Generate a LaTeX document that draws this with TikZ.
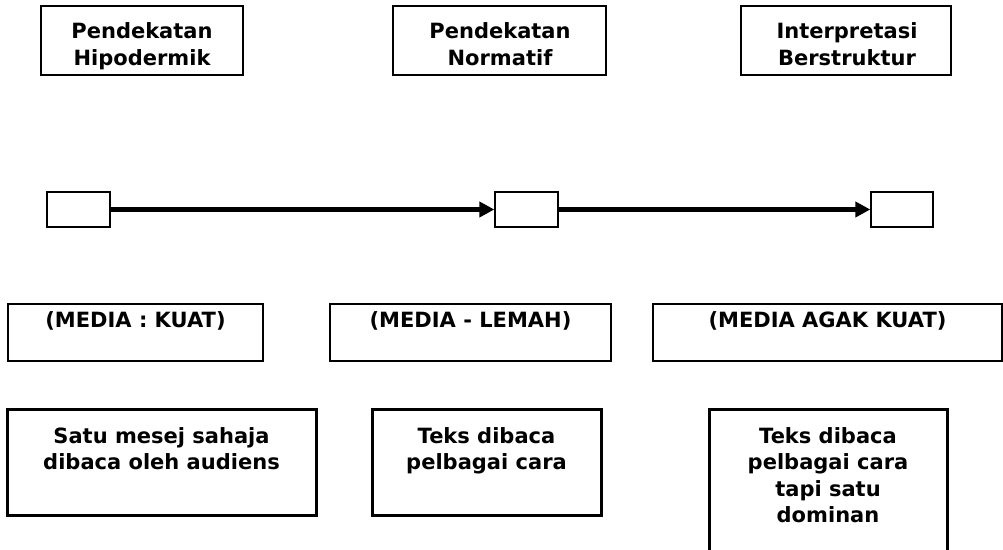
\documentclass[tikz,border=0pt]{standalone}
\usepackage{fontspec}
\setmainfont{DejaVu Sans}
\usetikzlibrary{arrows.meta}
\begin{document}
\begin{tikzpicture}[x=1pt,y=-1pt,
  thinbox/.style={draw=black, line width=1.3pt, inner sep=0pt},
  thickbox/.style={draw=black, line width=3pt, inner sep=0pt},
  label/.style={font=\fontsize{21}{26.5}\selectfont\bfseries, align=center, inner sep=0pt, anchor=north},
  flow/.style={line width=4.5pt, -{Triangle[length=15pt,width=15pt]}}]
\useasboundingbox (0,0) rectangle (1003,549);
% top boxes
\node[thinbox, minimum width=202pt, minimum height=69pt] (t1) at (142,40.5) {};
\node[thinbox, minimum width=213pt, minimum height=69pt] (t2) at (499.5,40.5) {};
\node[thinbox, minimum width=210pt, minimum height=69pt] (t3) at (846,40.5) {};
\node[label] (t1t) at (142,22.5) {Pendekatan\\Hipodermik};
\node[label] (t2t) at (500,22.5) {Pendekatan\\Normatif};
\node[label] (t3t) at (847,22.5) {Interpretasi\\Berstruktur};
% small boxes
\node[thinbox, minimum width=63pt, minimum height=35pt] (s1) at (78.5,209.5) {};
\node[thinbox, minimum width=63pt, minimum height=35pt] (s2) at (526.5,209.5) {};
\node[thinbox, minimum width=62pt, minimum height=35pt] (s3) at (902,209.5) {};
\draw[flow] (s1.east) -- (s2.west);
\draw[flow] (s2.east) -- (s3.west);
% middle boxes
\node[thinbox, minimum width=255pt, minimum height=57pt] (m1) at (135.5,332.5) {};
\node[thinbox, minimum width=281pt, minimum height=57pt] (m2) at (470.5,332.5) {};
\node[thinbox, minimum width=349pt, minimum height=57pt] (m3) at (827.5,332.5) {};
\node[label] (m1t) at (135.5,311) {(MEDIA : KUAT)};
\node[label] (m2t) at (470.5,311) {(MEDIA - LEMAH)};
\node[label] (m3t) at (827.5,311) {(MEDIA AGAK KUAT)};
% bottom boxes
\node[thickbox, minimum width=309pt, minimum height=106pt] (b1) at (161.5,462) {};
\node[thickbox, minimum width=229pt, minimum height=106pt] (b2) at (486.5,462) {};
\node[thickbox, minimum width=238pt, minimum height=160pt] (b3) at (828,489) {};
\node[label] (b1t) at (161.5,427) {Satu mesej sahaja\\dibaca oleh audiens};
\node[label] (b2t) at (486.5,427) {Teks dibaca\\pelbagai cara};
\node[label] (b3t) at (828,427) {Teks dibaca\\pelbagai cara\\tapi satu\\dominan};
\end{tikzpicture}
\end{document}
